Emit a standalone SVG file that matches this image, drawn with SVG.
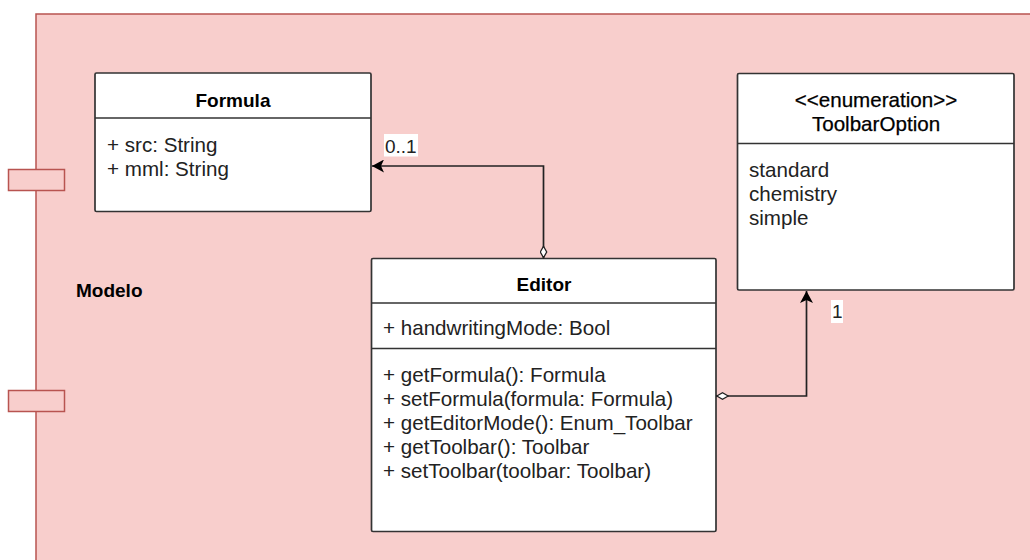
<svg xmlns="http://www.w3.org/2000/svg" width="1030" height="560" viewBox="0 0 1030 560">
  <style>
    .comp { fill: #f8cecc; stroke: #b85450; stroke-width: 1.5; }
    .box { fill: #ffffff; stroke: #333333; stroke-width: 1.7; }
    .sep { stroke: #333333; stroke-width: 1.7; fill: none; }
    .title { font-family: "Liberation Sans", Arial, sans-serif; font-size: 19px; font-weight: bold; fill: #000000; }
    .head { font-family: "Liberation Sans", Arial, sans-serif; font-size: 20.6px; fill: #000000; stroke: #000000; stroke-width: 0.25; }
    .item { font-family: "Liberation Sans", Arial, sans-serif; font-size: 20.6px; fill: #222222; }
    .lbl { font-family: "Liberation Sans", Arial, sans-serif; font-size: 19px; fill: #222222; }
    .edge { stroke: #222222; stroke-width: 1.7; fill: none; }
  </style>
  <defs>
    <marker id="arrow" viewBox="0 0 12 13" refX="12" refY="6.5" markerWidth="12" markerHeight="13" markerUnits="userSpaceOnUse" orient="auto">
      <path d="M0,0 L12,6.5 L0,13 L3,6.5 Z" fill="#000000"/>
    </marker>
    <marker id="diamond" viewBox="0 0 13 8" refX="0" refY="4" markerWidth="13" markerHeight="8" markerUnits="userSpaceOnUse" orient="auto">
      <path d="M0.8,4 L6.5,0.8 L12.2,4 L6.5,7.2 Z" fill="#ffffff" stroke="#222222" stroke-width="1.3"/>
    </marker>
  </defs>

  <!-- Component "Modelo" -->
  <g id="modelo">
    <rect class="comp" x="36" y="14" width="1010" height="560"/>
    <rect class="comp" x="8.5" y="169.5" width="56" height="21"/>
    <rect class="comp" x="8.5" y="390.5" width="56" height="21"/>
    <text class="title" x="76" y="297">Modelo</text>
  </g>

  <!-- Class Formula -->
  <g id="formula">
    <rect class="box" x="95" y="73" width="276" height="138.5" rx="1.5"/>
    <line class="sep" x1="95" y1="118" x2="371" y2="118"/>
    <text class="title" x="233" y="107" text-anchor="middle">Formula</text>
    <text class="item" x="107" y="152">+ src: String</text>
    <text class="item" x="107" y="176">+ mml: String</text>
  </g>

  <!-- Enumeration ToolbarOption -->
  <g id="toolbar-option">
    <rect class="box" x="737.5" y="73.5" width="276.5" height="216.5" rx="1.5"/>
    <line class="sep" x1="737.5" y1="143.5" x2="1014" y2="143.5"/>
    <text class="head" x="876" y="107" text-anchor="middle">&lt;&lt;enumeration&gt;&gt;</text>
    <text class="head" x="876" y="131" text-anchor="middle">ToolbarOption</text>
    <text class="item" x="749" y="177">standard</text>
    <text class="item" x="749" y="201">chemistry</text>
    <text class="item" x="749" y="225">simple</text>
  </g>

  <!-- Class Editor -->
  <g id="editor">
    <rect class="box" x="371.5" y="258.5" width="344.5" height="273" rx="1.5"/>
    <line class="sep" x1="371.5" y1="303" x2="716" y2="303"/>
    <line class="sep" x1="371.5" y1="348.5" x2="716" y2="348.5"/>
    <text class="title" x="544" y="291" text-anchor="middle">Editor</text>
    <text class="item" x="383" y="335">+ handwritingMode: Bool</text>
    <text class="item" x="383" y="382">+ getFormula(): Formula</text>
    <text class="item" x="383" y="406">+ setFormula(formula: Formula)</text>
    <text class="item" x="383" y="430">+ getEditorMode(): Enum_Toolbar</text>
    <text class="item" x="383" y="454">+ getToolbar(): Toolbar</text>
    <text class="item" x="383" y="478">+ setToolbar(toolbar: Toolbar)</text>
  </g>

  <!-- Associations -->
  <g id="connectors">
    <path class="edge" d="M543.5,258.5 L543.5,166 L372,166" marker-start="url(#diamond)" marker-end="url(#arrow)"/>
    <path class="edge" d="M716,396 L806.5,396 L806.5,291" marker-start="url(#diamond)" marker-end="url(#arrow)"/>
    <rect x="384" y="134" width="34" height="22.5" fill="#ffffff"/>
    <text class="lbl" x="385" y="152.5">0..1</text>
    <rect x="831" y="300" width="12" height="23" fill="#ffffff"/>
    <text class="lbl" x="832" y="318">1</text>
  </g>
</svg>
